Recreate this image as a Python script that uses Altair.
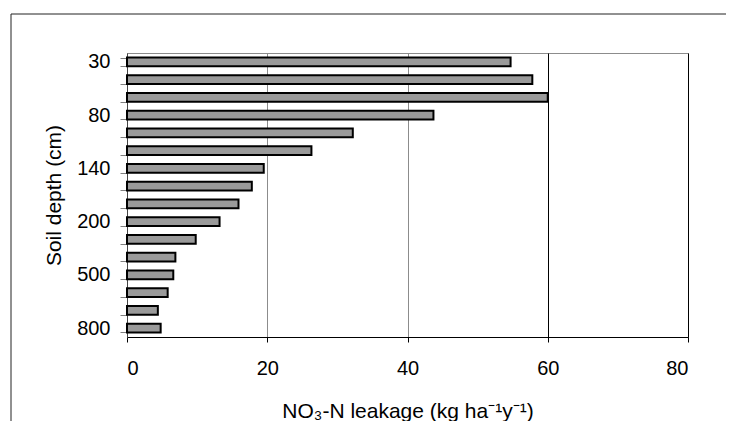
import altair as alt
import pandas as pd

# Soil depth categories (cm), top to bottom
depths = ["30", "50", "65", "80", "100", "120", "140", "160", "180",
          "200", "300", "400", "500", "600", "700", "800"]
# NO3-N leakage (kg ha-1 y-1)
leakage = [54.7, 57.8, 60.0, 43.7, 32.2, 26.3, 19.5, 17.8, 15.9,
           13.2, 9.8, 6.9, 6.6, 5.8, 4.4, 4.8]
# Depth labels shown on the axis
shown_labels = ["30", "80", "140", "200", "500", "800"]
x_ticks = [0, 20, 40, 60, 80]

df = pd.DataFrame({"depth": depths, "leakage": leakage})

FONT = "Liberation Sans"
label_list = "[" + ",".join("'" + s + "'" for s in shown_labels) + "]"

bars = alt.Chart(df).mark_bar(
    fill="#9a9a9a", stroke="black", strokeWidth=2
).encode(
    x=alt.X(
        "leakage:Q",
        scale=alt.Scale(domain=[0, 80], nice=False),
        axis=alt.Axis(
            values=x_ticks,
            title="NO₃-N leakage (kg ha⁻¹y⁻¹)",
            titleX=280.5, titleY=74, titleBaseline="middle", titleAlign="center",
            titleFont=FONT, titleFontSize=21, titleFontWeight="normal", titleColor="black",
            labelFont=FONT, labelFontSize=20, labelColor="black", labelPadding=16,
            tickSize=5, tickColor="black", domainColor="black",
            grid=True,
            gridColor={"condition": {"test": "datum.value >= 60", "value": "black"},
                       "value": "#8c8c8c"},
        ),
    ),
    y=alt.Y(
        "depth:N",
        sort=depths,
        scale=alt.Scale(paddingInner=0.52, paddingOuter=0.26),
        axis=alt.Axis(
            title="Soil depth (cm)",
            titleX=-73, titleY=142, titleAngle=-90, titleBaseline="middle",
            titleAlign="center",
            titleFont=FONT, titleFontSize=21, titleFontWeight="normal", titleColor="black",
            labelFont=FONT, labelFontSize=20, labelColor="black", labelPadding=10,
            labelExpr="indexof(" + label_list + ", datum.value) >= 0 ? datum.value : ''",
            tickBand="extent", tickSize=7, tickColor="#808080",
            domainColor="#444444", grid=False,
        ),
    ),
)

frame_data = alt.Data(values=[{}])
frame_left = alt.Chart(frame_data).mark_rule(color="#222222", strokeWidth=1).encode(
    x=alt.value(-116), y=alt.value(-39), y2=alt.value(400)
)
frame_top = alt.Chart(frame_data).mark_rule(color="#222222", strokeWidth=1).encode(
    x=alt.value(-116), x2=alt.value(620), y=alt.value(-39)
)

chart = alt.layer(bars, frame_left, frame_top).properties(
    width=561,
    height=284,
    autosize=alt.AutoSizeParams(type="none"),
    padding={"left": 119, "top": 45, "right": 38, "bottom": 84},
    background="white",
).configure_view(stroke="#8c8c8c", strokeWidth=1)

chart.save("out.html", embed_options={"renderer": "svg", "actions": False})
